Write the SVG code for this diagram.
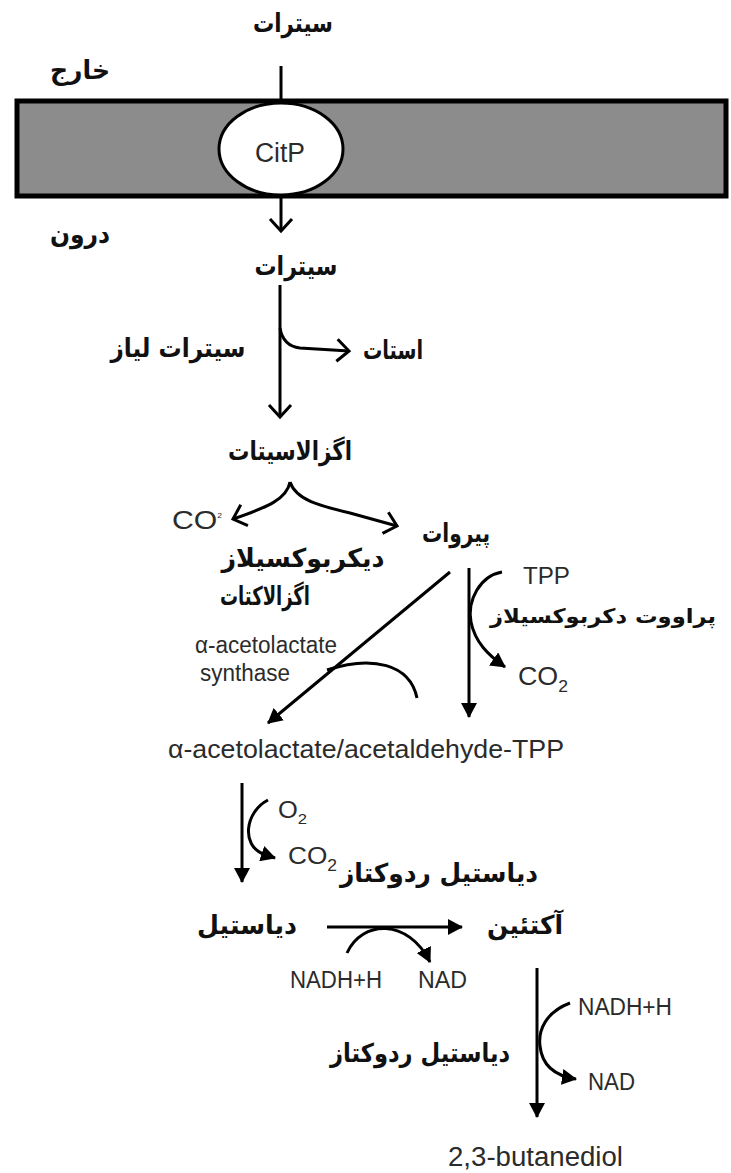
<svg xmlns="http://www.w3.org/2000/svg" width="731" height="1173" viewBox="0 0 731 1173">
<style>
.bg{fill:#ffffff}
.ln{fill:none;stroke:#000;stroke-width:3}
.fa{marker-end:url(#tri)}
.ch{marker-end:url(#chev)}
.en{font-family:"Liberation Sans",Arial,sans-serif;fill:#2b2b2b}
.fa-t{font-family:"DejaVu Sans","Noto Sans",sans-serif;font-weight:bold;fill:#111;font-size:26px}
</style>
<defs>
<marker id="tri" viewBox="0 0 15 16" refX="14" refY="8" markerWidth="15" markerHeight="16" markerUnits="userSpaceOnUse" orient="auto"><path d="M0,0 L15,8 L0,16 z" fill="#000"/></marker>
<marker id="chev" viewBox="-2 -2 18 26" refX="12" refY="11" markerWidth="18" markerHeight="26" markerUnits="userSpaceOnUse" orient="auto"><path d="M0,0 L12,11 L0,22" fill="none" stroke="#000" stroke-width="3"/></marker>
</defs>
<rect class="bg" x="0" y="0" width="731" height="1173"/>

<g id="membrane">
<rect x="17" y="101" width="709" height="95" fill="#8c8c8c" stroke="#000" stroke-width="5"/>
</g>

<g id="connectors">
<line class="ln" x1="281" y1="66" x2="281" y2="103"/>
<line class="ln ch" x1="281" y1="195" x2="281" y2="231"/>
<line class="ln ch" x1="280" y1="285" x2="280" y2="417"/>
<path class="ln ch" d="M280,328 Q283,346 300,348 L349,351"/>
<path class="ln ch" d="M290,482 C287,499 268,507 233,519"/>
<path class="ln ch" d="M290,482 C296,500 320,506 350,513 L397,526"/>
<line class="ln fa" x1="450" y1="572" x2="268" y2="723"/>
<path class="ln" d="M327,670 C372,655 410,664 417,698"/>
<line class="ln fa" x1="469" y1="568" x2="469" y2="717"/>
<path class="ln fa" d="M502,572 C480,576 467,600 471,622 C475,642 488,655 505,667"/>
<line class="ln fa" x1="242" y1="783" x2="242" y2="882"/>
<path class="ln fa" d="M268,800 C245,812 241,845 263,854 L275,858"/>
<line class="ln fa" x1="327" y1="927" x2="462" y2="927"/>
<path class="ln fa" d="M347,953 C362,920 408,918 430,962"/>
<line class="ln fa" x1="537" y1="968" x2="537" y2="1117"/>
<path class="ln fa" d="M570,1003 C546,1012 538,1030 540,1046 C542,1066 556,1076 576,1079"/>
</g>

<g id="citrate-out"><text class="fa-t" x="293" y="32" text-anchor="middle" textLength="80" lengthAdjust="spacingAndGlyphs">سیترات</text></g>
<g id="outside"><text class="fa-t" x="80" y="79" text-anchor="middle" textLength="60" lengthAdjust="spacingAndGlyphs">خارج</text></g>
<g id="inside"><text class="fa-t" x="80" y="243" text-anchor="middle" textLength="60" lengthAdjust="spacingAndGlyphs">درون</text></g>
<g id="citp">
<ellipse cx="281" cy="149" rx="62" ry="46" fill="#fff" stroke="#000" stroke-width="3"/>
<text class="en" x="280" y="162" font-size="27" text-anchor="middle" textLength="50" lengthAdjust="spacingAndGlyphs">CitP</text>
</g>
<g id="citrate-in"><text class="fa-t" x="296" y="275" text-anchor="middle" textLength="83" lengthAdjust="spacingAndGlyphs">سیترات</text></g>
<g id="citrate-lyase"><text class="fa-t" x="178" y="357" text-anchor="middle" textLength="135" lengthAdjust="spacingAndGlyphs">سیترات لیاز</text></g>
<g id="acetate"><text class="fa-t" x="393" y="359" text-anchor="middle" textLength="60" lengthAdjust="spacingAndGlyphs">استات</text></g>
<g id="oxaloacetate"><text class="fa-t" x="290" y="460" text-anchor="middle" textLength="124" lengthAdjust="spacingAndGlyphs">اگزالاسیتات</text></g>
<g id="co2-a"><text class="en" x="172" y="529" font-size="25" textLength="50" lengthAdjust="spacingAndGlyphs">CO<tspan font-size="7" dy="-11">2</tspan></text></g>
<g id="pyruvate"><text class="fa-t" x="456" y="542" text-anchor="middle" textLength="68" lengthAdjust="spacingAndGlyphs">پیروات</text></g>
<g id="oad">
<text class="fa-t" x="303" y="567" text-anchor="middle" textLength="163" lengthAdjust="spacingAndGlyphs">دیکربوکسیلاز</text>
<text class="fa-t" x="265" y="605" text-anchor="middle" textLength="90" lengthAdjust="spacingAndGlyphs">اگزالاکتات</text>
</g>
<g id="tpp"><text class="en" x="523" y="584" font-size="24" textLength="47" lengthAdjust="spacingAndGlyphs">TPP</text></g>
<g id="pdc"><text class="fa-t" x="716" y="623" style="font-size:20px" text-anchor="end" textLength="226" lengthAdjust="spacingAndGlyphs">پراووت دکربوکسیلاز</text></g>
<g id="als">
<text class="en" x="195" y="653" font-size="23" textLength="142" lengthAdjust="spacingAndGlyphs">α-acetolactate</text>
<text class="en" x="200" y="681" font-size="23" textLength="90" lengthAdjust="spacingAndGlyphs">synthase</text>
</g>
<g id="co2-b"><text class="en" x="518" y="685" font-size="26" textLength="50" lengthAdjust="spacingAndGlyphs">CO<tspan font-size="17" dy="7">2</tspan></text></g>
<g id="acetolactate"><text class="en" x="168" y="758" font-size="25" textLength="396" lengthAdjust="spacingAndGlyphs">α-acetolactate/acetaldehyde-TPP</text></g>
<g id="o2"><text class="en" x="278" y="818" font-size="23" textLength="29" lengthAdjust="spacingAndGlyphs">O<tspan font-size="15" dy="6">2</tspan></text></g>
<g id="co2-c"><text class="en" x="288" y="864" font-size="24" textLength="49" lengthAdjust="spacingAndGlyphs">CO<tspan font-size="16" dy="7">2</tspan></text></g>
<g id="dar-1"><text class="fa-t" x="439" y="882" text-anchor="middle" textLength="198" lengthAdjust="spacingAndGlyphs">دیاستیل ردوکتاز</text></g>
<g id="diacetyl"><text class="fa-t" x="247" y="934" text-anchor="middle" textLength="100" lengthAdjust="spacingAndGlyphs">دیاستیل</text></g>
<g id="acetoin"><text class="fa-t" x="525" y="934" text-anchor="middle" textLength="76" lengthAdjust="spacingAndGlyphs">آکتئین</text></g>
<g id="nadh-1"><text class="en" x="290" y="988" font-size="23" textLength="92" lengthAdjust="spacingAndGlyphs">NADH+H</text></g>
<g id="nad-1"><text class="en" x="418" y="988" font-size="23" textLength="49" lengthAdjust="spacingAndGlyphs">NAD</text></g>
<g id="nadh-2"><text class="en" x="578" y="1015" font-size="23" textLength="94" lengthAdjust="spacingAndGlyphs">NADH+H</text></g>
<g id="dar-2"><text class="fa-t" x="420" y="1062" text-anchor="middle" textLength="180" lengthAdjust="spacingAndGlyphs">دیاستیل ردوکتاز</text></g>
<g id="nad-2"><text class="en" x="588" y="1090" font-size="23" textLength="47" lengthAdjust="spacingAndGlyphs">NAD</text></g>
<g id="butanediol"><text class="en" x="448" y="1166" font-size="27" textLength="175" lengthAdjust="spacingAndGlyphs">2,3-butanediol</text></g>
</svg>
